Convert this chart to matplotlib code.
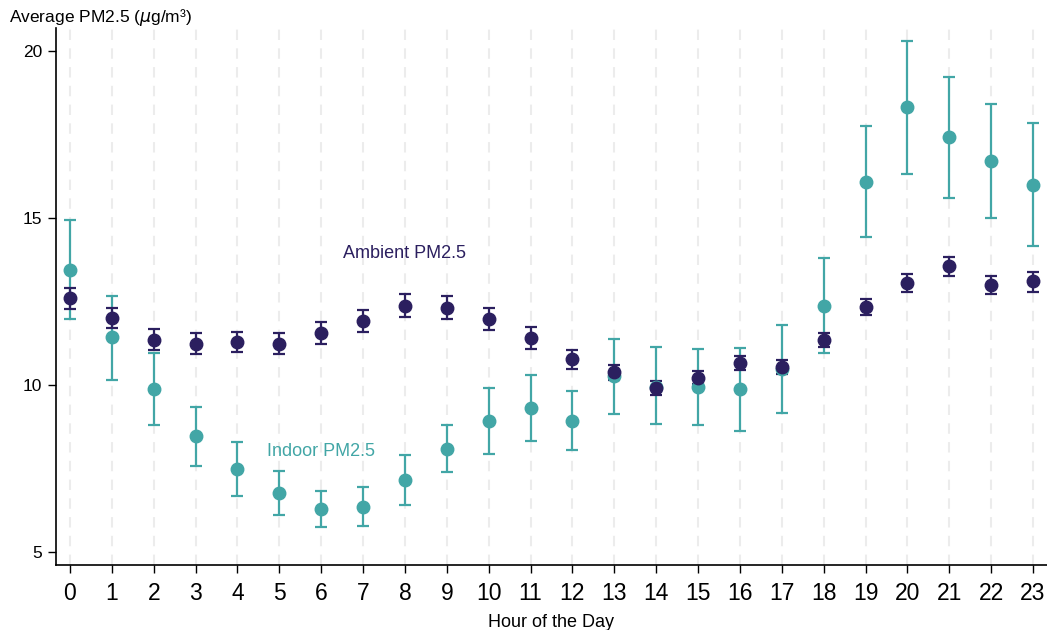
import matplotlib
matplotlib.use("Agg")
import matplotlib.pyplot as plt
from matplotlib import font_manager as fm

hours = list(range(24))

ambient_mean = [12.60, 12.01, 11.36, 11.24, 11.28, 11.24, 11.56, 11.91, 12.37, 12.31,
                11.98, 11.42, 10.77, 10.38, 9.91, 10.22, 10.66, 10.53, 11.36, 12.34,
                13.05, 13.55, 13.00, 13.10]
ambient_hi = [12.89, 12.31, 11.68, 11.56, 11.60, 11.57, 11.90, 12.24, 12.72, 12.66,
              12.31, 11.75, 11.06, 10.61, 10.12, 10.43, 10.87, 10.75, 11.56, 12.57,
              13.31, 13.82, 13.27, 13.38]
ambient_lo = [12.28, 11.70, 11.05, 10.94, 10.98, 10.92, 11.22, 11.60, 12.04, 11.97,
              11.64, 11.08, 10.48, 10.15, 9.70, 10.03, 10.45, 10.33, 11.14, 12.10,
              12.79, 13.27, 12.72, 12.79]

indoor_mean = [13.45, 11.43, 9.88, 8.46, 7.49, 6.76, 6.29, 6.36, 7.16, 8.09,
               8.92, 9.30, 8.93, 10.28, 9.93, 9.93, 9.87, 10.48, 12.37, 16.09,
               18.31, 17.42, 16.70, 16.00]
indoor_hi = [14.95, 12.67, 10.95, 9.35, 8.30, 7.42, 6.82, 6.96, 7.91, 8.81,
             9.91, 10.30, 9.83, 11.38, 11.15, 11.09, 11.11, 11.79, 13.80, 17.75,
             20.31, 19.23, 18.40, 17.84]
indoor_lo = [11.98, 10.16, 8.80, 7.57, 6.69, 6.12, 5.76, 5.77, 6.42, 7.40,
             7.93, 8.32, 8.04, 9.13, 8.83, 8.79, 8.63, 9.17, 10.95, 14.42,
             16.32, 15.60, 14.99, 14.15]

y_ticks = [5, 10, 15, 20]

navy = "#2b1f5f"
teal = "#42a6a6"

names = {f.name for f in fm.fontManager.ttflist}
base = "Liberation Sans" if "Liberation Sans" in names else "DejaVu Sans"
narrow = "Liberation Sans Narrow" if "Liberation Sans Narrow" in names else base

plt.rcParams["font.family"] = [base, "DejaVu Sans"]
plt.rcParams["mathtext.fontset"] = "dejavusans"

fig = plt.figure(figsize=(10.47, 6.30), dpi=100)
ax = fig.add_axes([56 / 1047, 1 - 565 / 630, 1 - 56 / 1047, (565 - 28) / 630])

for h in hours:
    ax.axvline(h, color="#ececec", lw=1.5, dashes=(5, 4), zorder=0)

def draw(mean, lo, hi, color):
    err = [[m - l for m, l in zip(mean, lo)], [u - m for m, u in zip(mean, hi)]]
    ax.errorbar(hours, mean, yerr=err, fmt="o", color=color, ecolor=color,
                mec=color, mfc=color,
                elinewidth=1.6, capsize=4.3, capthick=1.6, markersize=9,
                zorder=3)

draw(indoor_mean, indoor_lo, indoor_hi, teal)
draw(ambient_mean, ambient_lo, ambient_hi, navy)

ax.text(8, 13.95, "Ambient PM2.5", color=navy, fontsize=13, ha="center", va="center")
ax.text(6, 8.0, "Indoor PM2.5", color=teal, fontsize=13, ha="center", va="center")

ax.set_xlim(-0.334, 23.334)
ax.set_ylim(4.61, 20.69)
ax.set_xticks(hours)
ax.set_xticklabels([str(h) for h in hours], fontfamily=narrow, fontsize=16.5)
ax.set_yticks(y_ticks)
ax.set_yticklabels([str(t) for t in y_ticks], fontsize=12.5)
ax.tick_params(axis="both", direction="out", length=6, width=1.0, color="black")
ax.tick_params(axis="x", pad=6)
ax.tick_params(axis="y", pad=4)

for s in ["top", "right"]:
    ax.spines[s].set_visible(False)
for s in ["left", "bottom"]:
    ax.spines[s].set_linewidth(1.2)
    ax.spines[s].set_color("black")

ax.set_xlabel("Hour of the Day", fontfamily=narrow, fontsize=13, labelpad=7)
fig.text(9 / 1047, 1 - 18 / 630, r"Average PM2.5 ($\mu$g/m³)", fontsize=12.5,
         ha="left", va="center")

fig.savefig("out.png", dpi=100)
